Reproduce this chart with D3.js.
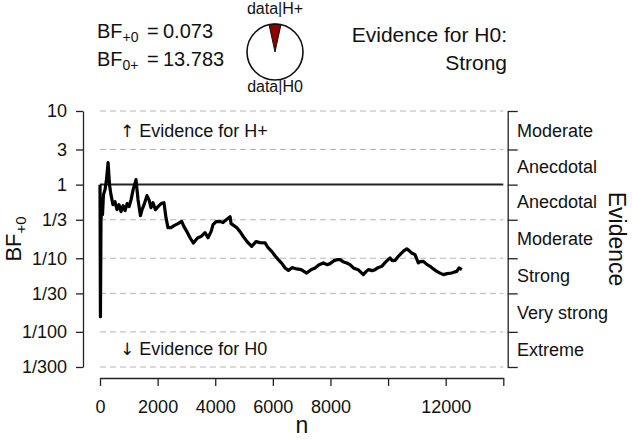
<!DOCTYPE html>
<html>
<head>
<meta charset="utf-8">
<script src="https://cdn.jsdelivr.net/npm/d3@7"></script>
<style>
  body { margin: 0; background: #fff; }
  text { font-family: "Liberation Sans", Arial, sans-serif; fill: #111; }
</style>
</head>
<body>
<script>
// sequential analysis values
const nValues = [0, 15, 35, 60, 87, 120, 175, 225, 280, 330,
  380, 450, 520, 590, 660, 730, 800, 870, 940, 1010,
  1080, 1150, 1250, 1320, 1405, 1460, 1530, 1630, 1700, 1770,
  1840, 1925, 2015, 2120, 2220, 2290, 2360, 2465, 2570, 2710,
  2835, 2915, 3010, 3125, 3240, 3335, 3400, 3505, 3645, 3750,
  3855, 3925, 4030, 4165, 4270, 4340, 4515, 4550, 4650, 4745,
  4860, 4965, 5105, 5265, 5415, 5555, 5730, 5835, 5960, 6075,
  6190, 6320, 6425, 6540, 6665, 6830, 6980, 7175, 7325, 7465,
  7605, 7755, 7880, 7985, 8125, 8230, 8335, 8435, 8565, 8680,
  8795, 8960, 9140, 9235, 9315, 9445, 9550, 9650, 9780, 9895,
  10000, 10070, 10140, 10240, 10345, 10475, 10555, 10650, 10730, 10820,
  10935, 11050, 11110, 11225, 11355, 11460, 11560, 11690, 11805, 11920,
  12050, 12210, 12290, 12385, 12465, 12560];
const bfValues = [1, 0.0161, 0.334, 0.569, 0.391, 0.731, 0.855, 1.17, 1.99, 1.0,
  0.731, 0.535, 0.587, 0.457, 0.535, 0.43, 0.518, 0.443, 0.552, 0.502,
  0.625, 0.855, 1.17, 0.625, 0.379, 0.457, 0.535, 0.709, 0.625, 0.487,
  0.569, 0.457, 0.502, 0.552, 0.569, 0.356, 0.261, 0.261, 0.277, 0.295,
  0.317, 0.269, 0.232, 0.19, 0.161, 0.179, 0.19, 0.197, 0.223, 0.19,
  0.23, 0.286, 0.314, 0.317, 0.305, 0.324, 0.367, 0.295, 0.277, 0.261,
  0.23, 0.199, 0.168, 0.145, 0.168, 0.163, 0.162, 0.139, 0.124, 0.108,
  0.0957, 0.0845, 0.0738, 0.0685, 0.0745, 0.0716, 0.07, 0.063, 0.07, 0.0738,
  0.0818, 0.0863, 0.0818, 0.0845, 0.0928, 0.0957, 0.0957, 0.0899, 0.0863, 0.0818,
  0.0738, 0.07, 0.0599, 0.0658, 0.07, 0.0679, 0.07, 0.0745, 0.0776, 0.0871,
  0.0957, 0.101, 0.0928, 0.0934, 0.105, 0.118, 0.127, 0.134, 0.127, 0.118,
  0.112, 0.0863, 0.0899, 0.0908, 0.0818, 0.0776, 0.0722, 0.0664, 0.0628, 0.0599,
  0.0618, 0.063, 0.0648, 0.0664, 0.0738, 0.07];

const yTickValues = [10, 3, 1, 1/3, 1/10, 1/30, 1/100, 1/300];
const yTickLabels = ["10", "3", "1", "1/3", "1/10", "1/30", "1/100", "1/300"];
const xTickValues = [0, 2000, 4000, 6000, 8000, 10000, 12000, 14000];
const xTickLabels = ["0", "2000", "4000", "6000", "8000", "", "12000", ""];
const evidenceLabels = ["Moderate", "Anecdotal", "Anecdotal", "Moderate", "Strong", "Very strong", "Extreme"];

const bf10 = 0.073;
const bf01 = 13.783;
const evidenceText = ["Evidence for H0:", "Strong"];

const width = 633, height = 440;
const svg = d3.select("body").append("svg")
  .attr("width", width).attr("height", height);

const x = d3.scaleLinear().domain([0, 14000]).range([100, 503.3]);
const y = d3.scaleLog().domain([1/300, 10]).range([367, 111]);

// grid
svg.append("g").selectAll("line")
  .data(yTickValues.filter(d => d !== 1))
  .join("line")
  .attr("x1", x(0)).attr("x2", x(14000))
  .attr("y1", d => y(d)).attr("y2", d => y(d))
  .attr("stroke", "#b5b5b5").attr("stroke-width", 1)
  .attr("stroke-dasharray", "6,4");

svg.append("line")
  .attr("x1", x(0)).attr("x2", x(14000))
  .attr("y1", y(1)).attr("y2", y(1))
  .attr("stroke", "#222").attr("stroke-width", 2);

// axes
const yAxis = svg.append("g")
  .attr("transform", "translate(83,0)")
  .call(d3.axisLeft(y).tickValues(yTickValues)
    .tickFormat((d, i) => yTickLabels[i]).tickSize(7).tickSizeOuter(0).tickPadding(9));

const xAxis = svg.append("g")
  .attr("transform", "translate(0,378)")
  .call(d3.axisBottom(x).tickValues(xTickValues)
    .tickFormat((d, i) => xTickLabels[i]).tickSize(8).tickSizeOuter(0).tickPadding(14));

const rAxis = svg.append("g")
  .attr("transform", "translate(507.7,0)")
  .call(d3.axisRight(y).tickValues(yTickValues).tickFormat("").tickSize(10).tickSizeOuter(0));

[yAxis, xAxis, rAxis].forEach(g => {
  g.attr("font-family", null).attr("font-size", 18);
  g.selectAll("path, line").attr("stroke", "#222").attr("stroke-width", 1.3);
});

// evidence labels between the right ticks
svg.append("g").selectAll("text")
  .data(evidenceLabels)
  .join("text")
  .attr("x", 517)
  .attr("y", (d, i) => y(Math.sqrt(yTickValues[i] * yTickValues[i + 1])))
  .attr("dy", "0.35em")
  .attr("font-size", 18)
  .text(d => d);

// BF line
const line = d3.line()
  .x(d => x(d[0]))
  .y(d => y(d[1]));

svg.append("path")
  .datum(nValues.map((n, i) => [n, bfValues[i]]))
  .attr("d", line)
  .attr("fill", "none")
  .attr("stroke", "#000")
  .attr("stroke-width", 3.2)
  .attr("stroke-linejoin", "round");

// axis titles
svg.append("text")
  .attr("transform", "translate(21,239) rotate(-90)")
  .attr("text-anchor", "middle")
  .attr("font-size", 22)
  .call(t => {
    t.append("tspan").text("BF");
    t.append("tspan").attr("font-size", 15).attr("dy", 5).text("+0");
  });

svg.append("text")
  .attr("x", 302).attr("y", 433)
  .attr("text-anchor", "middle")
  .attr("font-size", 23)
  .text("n");

svg.append("text")
  .attr("transform", "translate(609,239) rotate(90)")
  .attr("text-anchor", "middle")
  .attr("font-size", 23)
  .text("Evidence");

const hintRows = [
  { arrow: "\u2191", label: " Evidence for H+", yPos: 137 },
  { arrow: "\u2193", label: " Evidence for H0", yPos: 355 }
];
hintRows.forEach(h => {
  const t = svg.append("text").attr("x", 120).attr("y", h.yPos).attr("font-size", 18);
  t.append("tspan").attr("font-family", "DejaVu Sans").attr("font-size", 17).text(h.arrow);
  t.append("tspan").text(h.label);
});

// top: BF values
const bfRows = [
  { sub: "+0", value: bf10.toFixed(3), base: 38 },
  { sub: "0+", value: bf01.toFixed(3), base: 66 }
];
bfRows.forEach(r => {
  const t = svg.append("text").attr("x", 97).attr("y", r.base).attr("font-size", 20);
  t.append("tspan").text("BF");
  t.append("tspan").attr("font-size", 14).attr("dy", 4).text(r.sub);
  t.append("tspan").attr("dy", -4).attr("x", 147).text("=");
  t.append("tspan").attr("x", 163).text(r.value);
});

// pie of posterior probabilities
const pieG = svg.append("g").attr("transform", "translate(275,52)");
const pRed = bf10 / (1 + bf10);
const arc = d3.arc().innerRadius(0).outerRadius(28);
pieG.append("circle").attr("r", 28).attr("fill", "#fff");
pieG.append("path")
  .attr("d", arc({ startAngle: -pRed * Math.PI, endAngle: pRed * Math.PI }))
  .attr("fill", "#8b0000").attr("stroke", "#111").attr("stroke-width", 1);
pieG.append("circle").attr("r", 28).attr("fill", "none").attr("stroke", "#111").attr("stroke-width", 1.6);
pieG.append("text").attr("y", -38).attr("text-anchor", "middle").attr("font-size", 16).text("data|H+");
pieG.append("text").attr("y", 40).attr("text-anchor", "middle").attr("font-size", 16).text("data|H0");

// evidence text top right
svg.append("g").selectAll("text")
  .data(evidenceText)
  .join("text")
  .attr("x", 507)
  .attr("y", (d, i) => 42 + i * 28)
  .attr("text-anchor", "end")
  .attr("font-size", 21)
  .text(d => d);
</script>
</body>
</html>
